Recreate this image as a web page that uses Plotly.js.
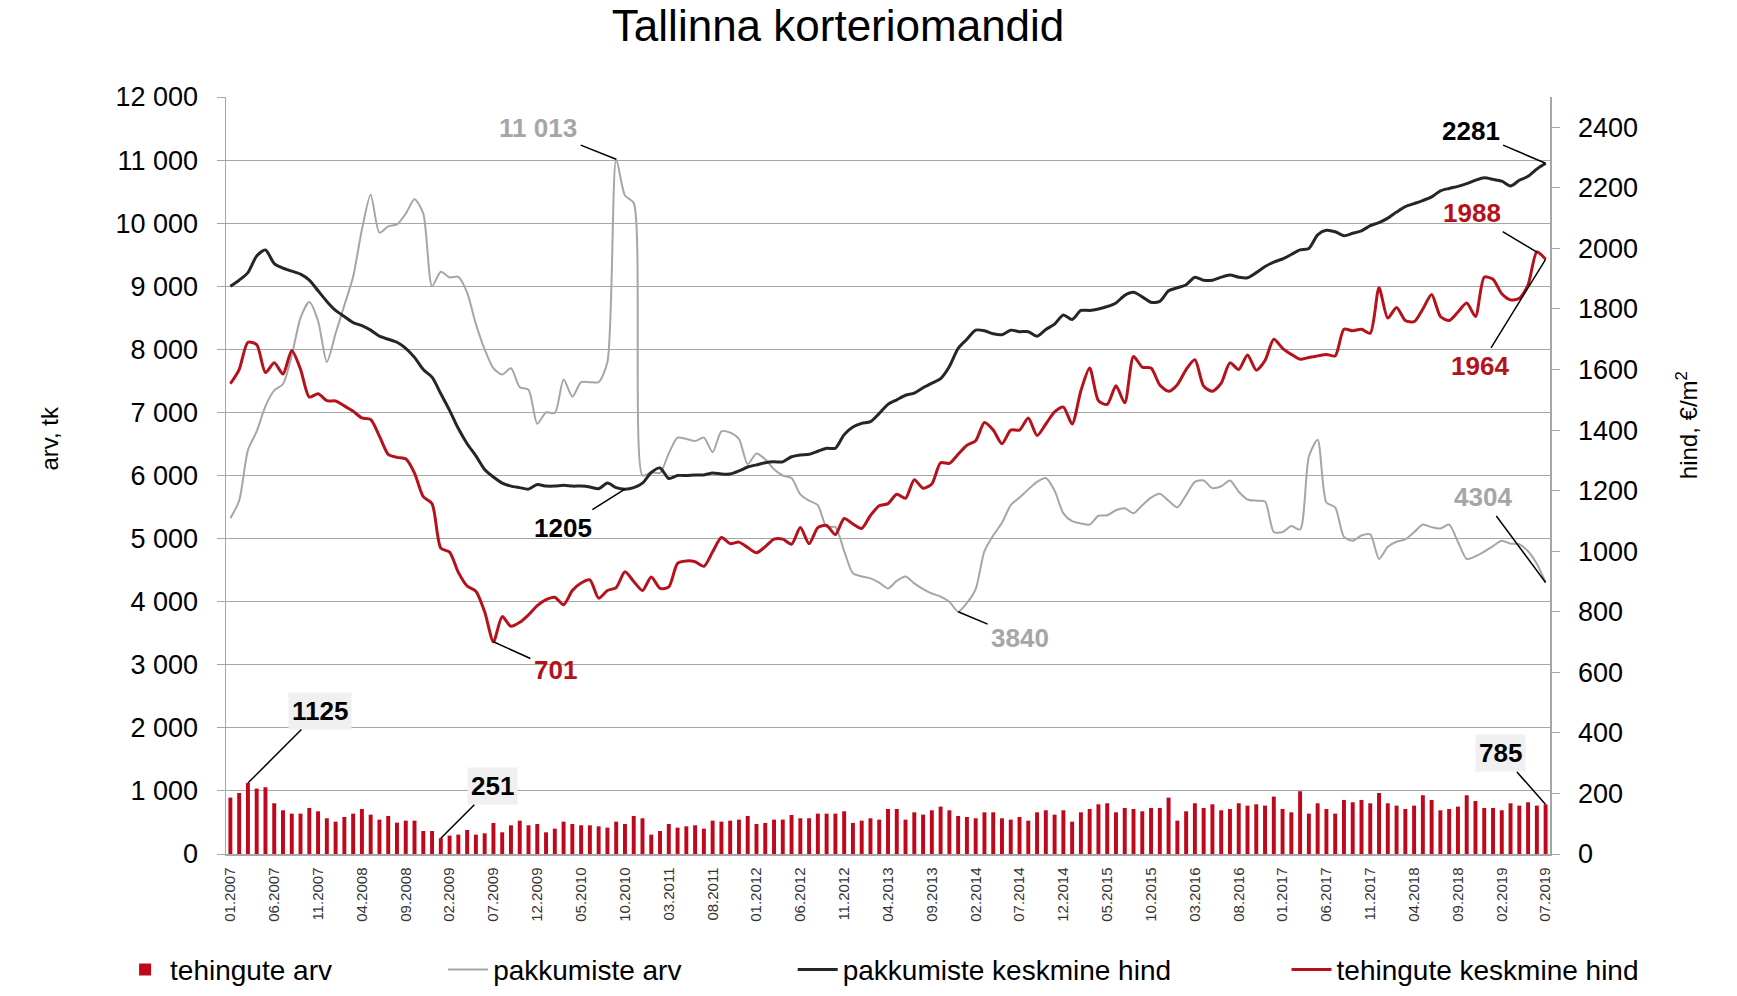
<!DOCTYPE html>
<html>
<head>
<meta charset="utf-8">
<script src="https://cdn.plot.ly/plotly-3.0.1.min.js"></script>
<style>html,body{margin:0;padding:0;background:#fff;}#chart{width:1737px;height:996px;}</style>
</head>
<body>
<div id="chart"></div>
<script>
// Months 01.2007 ... 07.2019 (category labels)
const months = [];
for (let y = 2007; y <= 2019; y++) {
  for (let m = 1; m <= 12; m++) {
    if (y === 2019 && m > 7) break;
    months.push((m < 10 ? '0' + m : '' + m) + '.' + y);
  }
}

// tehingute arv (bars, left axis)
const dealsCount = [
  894,968,1125,1037,1058,804,693,640,640,730,
  677,566,513,587,640,714,624,545,603,497,
  529,529,365,365,251,291,307,381,307,328,
  492,344,455,529,455,476,344,402,513,476,
  455,455,439,418,513,476,603,566,307,365,
  476,418,439,455,402,529,513,529,545,603,
  476,492,545,545,619,566,566,640,640,640,
  677,492,529,566,545,714,714,545,661,624,
  693,751,693,603,587,566,661,661,566,545,
  587,529,661,693,624,693,513,661,714,788,
  804,661,730,714,677,730,730,894,529,677,
  804,730,788,693,714,804,767,788,767,910,
  714,661,995,640,804,714,640,857,820,857,
  804,968,804,767,714,767,931,857,693,714,
  751,931,841,730,730,693,804,767,820,767,
  785
];

// pakkumiste arv (grey line, left axis)
const offersCount = [
  5323,5600,6400,6700,7100,7350,7450,7900,8500,8750,
  8450,7800,8250,8700,9150,9900,10450,9850,9950,9980,
  10150,10380,10150,9000,9230,9140,9150,8900,8400,8000,
  7700,7600,7700,7400,7360,6820,7000,6990,7520,7250,
  7480,7480,7480,7800,11013,10440,10320,6000,6050,6040,
  6350,6600,6580,6545,6600,6370,6700,6680,6580,6180,
  6350,6257,6100,6000,5960,5700,5600,5530,5183,5183,
  4800,4450,4400,4370,4300,4210,4330,4400,4290,4200,
  4130,4080,4000,3840,3980,4200,4800,5050,5250,5530,
  5650,5780,5900,5960,5760,5400,5276,5240,5222,5362,
  5370,5450,5480,5401,5530,5650,5712,5600,5494,5689,
  5900,5920,5800,5830,5922,5743,5620,5600,5587,5105,
  5105,5198,5144,6300,6568,5572,5494,5027,4965,5050,
  5066,4677,4872,4949,4988,5100,5222,5180,5160,5222,
  4949,4677,4720,4794,4880,4965,4920,4910,4800,4600,
  4304
];

// pakkumiste keskmine hind (black line, right axis)
const offersPrice = [
  1875,1895,1920,1975,1995,1950,1935,1925,1915,1895,
  1860,1825,1795,1775,1755,1745,1730,1710,1700,1690,
  1670,1640,1600,1575,1520,1465,1405,1355,1315,1270,
  1245,1225,1215,1210,1205,1220,1215,1215,1218,1215,
  1215,1212,1206,1225,1210,1205,1210,1225,1260,1275,
  1240,1250,1250,1252,1252,1258,1255,1255,1265,1278,
  1285,1292,1295,1295,1312,1318,1320,1330,1340,1340,
  1385,1410,1422,1428,1455,1485,1500,1515,1522,1540,
  1555,1570,1610,1670,1700,1730,1728,1718,1715,1730,
  1725,1725,1710,1732,1750,1780,1765,1795,1795,1800,
  1808,1820,1845,1855,1840,1822,1825,1860,1870,1880,
  1905,1895,1895,1905,1912,1905,1903,1920,1940,1955,
  1965,1980,1995,2000,2045,2060,2055,2042,2050,2058,
  2075,2085,2100,2120,2138,2148,2158,2170,2190,2198,
  2205,2214,2225,2233,2228,2222,2206,2225,2238,2262,
  2281
];

// tehingute keskmine hind (red line, right axis)
const dealsPrice = [
  1553,1600,1690,1682,1590,1622,1585,1663,1601,1509,
  1520,1497,1496,1480,1462,1440,1435,1380,1320,1310,
  1305,1258,1180,1157,1010,997,930,885,868,800,
  701,784,752,765,790,820,840,848,823,870,
  895,905,845,870,880,932,900,870,915,877,
  882,960,968,965,950,998,1045,1025,1030,1012,
  995,1015,1040,1040,1023,1078,1025,1078,1085,1055,
  1108,1090,1075,1118,1150,1157,1188,1175,1236,1208,
  1222,1292,1290,1320,1350,1365,1425,1400,1355,1400,
  1400,1440,1382,1420,1460,1476,1420,1530,1605,1497,
  1485,1546,1490,1643,1608,1605,1549,1528,1550,1600,
  1632,1545,1528,1555,1622,1600,1648,1598,1630,1700,
  1670,1650,1634,1640,1645,1650,1645,1733,1728,1733,
  1720,1870,1770,1805,1762,1758,1800,1848,1775,1762,
  1790,1820,1775,1905,1898,1850,1830,1835,1880,1988,
  1964
];

const seriesNames = ['tehingute arv', 'pakkumiste arv', 'pakkumiste keskmine hind', 'tehingute keskmine hind'];
const tickMonths = months.filter((m, i) => i % 5 === 0);
const leftTicks = [0,1000,2000,3000,4000,5000,6000,7000,8000,9000,10000,11000,12000];
const rightTicks = [0,200,400,600,800,1000,1200,1400,1600,1800,2000,2200,2400];

const FONT = 'Liberation Sans, Arial, sans-serif';
const RED = '#b5121b';
const BAR = '#c0081c';
const GREY = '#a6a6a6';
const BLACK = '#262626';

const traces = [
  {type:'bar', x: months, y: dealsCount, name: seriesNames[0], marker:{color: BAR}, yaxis:'y', legend:'legend'},
  {type:'scatter', mode:'lines', x: months, y: offersCount, name: seriesNames[1], line:{color: GREY, width: 2, shape:'spline', smoothing:0.7}, yaxis:'y', legend:'legend2'},
  {type:'scatter', mode:'lines', x: months, y: offersPrice, name: seriesNames[2], line:{color: BLACK, width: 3, shape:'spline', smoothing:0.7}, yaxis:'y2', legend:'legend3'},
  {type:'scatter', mode:'lines', x: months, y: dealsPrice, name: seriesNames[3], line:{color: RED, width: 3, shape:'spline', smoothing:0.7}, yaxis:'y2', legend:'legend4'}
];

function fmt(v) {
  return v >= 10000 ? String(v).replace(/(\d+)(\d{3})$/, '$1 $2') : String(v);
}

// label specs: index into series, style offsets
const labelSpecs = [
  {arr: offersCount, idx: 44, yref:'y', color: GREY, ax:-78, ay:-31, bg:null},
  {arr: offersPrice, idx: 150, yref:'y2', color:'#000', ax:-75, ay:-32, bg:null},
  {arr: dealsPrice, idx: 149, yref:'y2', color: RED, ax:-65, ay:-39, bg:null},
  {arr: dealsPrice, idx: 150, yref:'y2', color: RED, ax:-66, ay:107, bg:null},
  {arr: offersCount, idx: 150, yref:'y', color: GREY, ax:-63, ay:-85, bg:null},
  {arr: offersCount, idx: 83, yref:'y', color: GREY, ax:62, ay:26, bg:null},
  {arr: dealsPrice, idx: 30, yref:'y2', color: RED, ax:62, ay:28, bg:null},
  {arr: offersPrice, idx: 45, yref:'y2', color:'#000', ax:-62, ay:39, bg:null},
  {arr: dealsCount, idx: 2, yref:'y', color:'#000', ax:72, ay:-72, bg:'#f0f0f0'},
  {arr: dealsCount, idx: 24, yref:'y', color:'#000', ax:52, ay:-52, bg:'#f0f0f0'},
  {arr: dealsCount, idx: 150, yref:'y', color:'#000', ax:-45, ay:-51, bg:'#f0f0f0'}
];

// x given as category index (month labels look numeric, so use index)
const annotations = labelSpecs.map(s => ({
  x: s.idx, y: s.arr[s.idx], xref:'x', yref: s.yref,
  text: '<b>' + fmt(s.arr[s.idx]) + '</b>',
  font:{family: FONT, size: 26, color: s.color},
  showarrow: true, arrowhead: 0, arrowwidth: 1.5, arrowcolor:'#000',
  ax: s.ax, ay: s.ay, standoff: 0,
  bgcolor: s.bg || 'rgba(0,0,0,0)', borderpad: 3
}));

annotations.push({
  text:'arv, tk', xref:'paper', yref:'paper', x:-0.133, y:0.55, textangle:-90,
  showarrow:false, font:{family: FONT, size: 24, color:'#000'}, xanchor:'center', yanchor:'middle'
});
annotations.push({
  text:'hind, €/m<sup>2</sup>', xref:'paper', yref:'paper', x:1.103, y:0.567, textangle:-90,
  showarrow:false, font:{family: FONT, size: 24, color:'#000'}, xanchor:'center', yanchor:'middle'
});

const legendBase = {orientation:'h', yanchor:'middle', xanchor:'left', y:-0.153, font:{family: FONT, size: 28, color:'#000'}, bgcolor:'rgba(0,0,0,0)', itemwidth:40};

const layout = {
  width: 1737, height: 996,
  margin:{l:226, r:187, t:97, b:142, autoexpand:false},
  paper_bgcolor:'#fff', plot_bgcolor:'#fff',
  separators:', ',
  font:{family: FONT, color:'#000'},
  title:{text:'Tallinna korteriomandid', x:0.4825, xref:'container', y:0.974, yref:'container', yanchor:'middle', xanchor:'center', font:{family: FONT, size: 44, color:'#000'}},
  bargap: 0.55,
  xaxis:{type:'category', range:[-0.5, months.length - 0.5], tickvals: tickMonths, ticktext: tickMonths, tickangle:-90,
    tickfont:{family: FONT, size: 15, color:'#333'}, showline:true, linecolor: GREY, linewidth:1.5, ticks:'', showgrid:false, ticklabelstandoff: 6},
  yaxis:{range:[0,12000], tickvals: leftTicks, tickformat:',d', showgrid:true, gridcolor: GREY, gridwidth:1,
    showline:true, linecolor: GREY, linewidth:1.5, ticks:'outside', ticklen:8, tickcolor: GREY,
    tickfont:{family: FONT, size: 27, color:'#000'}, zeroline:false, ticklabelstandoff: 13},
  yaxis2:{range:[0,2500], tickvals: rightTicks, tickformat:'d', overlaying:'y', side:'right', showgrid:false,
    showline:true, linecolor: GREY, linewidth:1.5, ticks:'outside', ticklen:8, tickcolor: GREY,
    tickfont:{family: FONT, size: 27, color:'#000'}, zeroline:false, ticklabelstandoff: 13},
  legend: Object.assign({}, legendBase, {x:-0.080}),
  legend2: Object.assign({}, legendBase, {x:0.164}),
  legend3: Object.assign({}, legendBase, {x:0.428}),
  legend4: Object.assign({}, legendBase, {x:0.801}),
  showlegend: true,
  annotations: annotations
};

Plotly.newPlot('chart', traces, layout, {displayModeBar:false, staticPlot:true});
</script>
</body>
</html>
